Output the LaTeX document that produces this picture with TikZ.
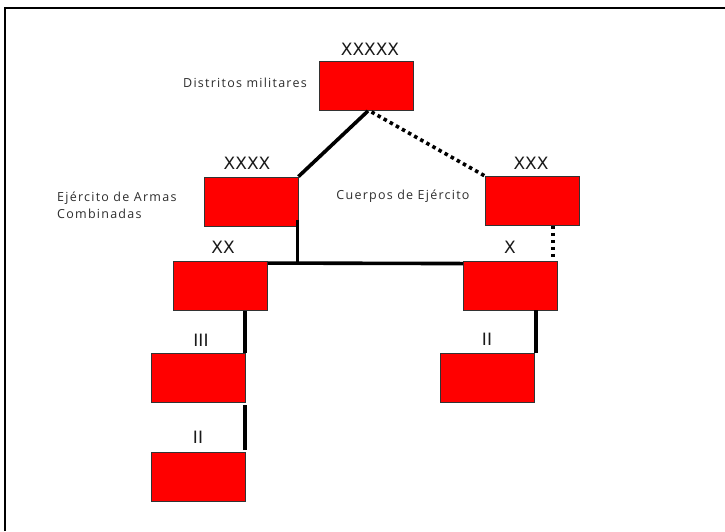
\documentclass[tikz,border=0pt]{standalone}
\usepackage{fontspec}
\setmainfont{Open Sans}
\newfontfamily\descfont[LetterSpace=10]{Open Sans}
\newfontfamily\echfont{DejaVu Sans}
\usetikzlibrary{calc}
\definecolor{boxred}{RGB}{255,0,0}
\definecolor{txtgrey}{RGB}{45,45,45}
\tikzset{
  unit/.style={draw=black!80, line width=0.9pt, fill=boxred, minimum width=94pt, minimum height=49pt, inner sep=0pt},
  echelon/.style={font=\echfont\fontsize{17}{17}\selectfont, text=black!90, inner sep=0pt},
  desc/.style={font=\descfont\fontsize{12.5}{17}\selectfont, text=txtgrey, inner sep=0pt},
  solidlink/.style={line width=3.6pt},
  dotlink/.style={line width=3.6pt, dash pattern=on 3.5pt off 3.5pt},
}
\begin{document}
\begin{tikzpicture}[x=1pt,y=-1pt]
\useasboundingbox (0,0) rectangle (725,531);
\draw[line width=2pt] (5,531) -- (5,7.5) -- (725,7.5);
% boxes
\node[unit] (b5) at (366.5,86) {};
\node[unit] (b4) at (251,201.5) {};
\node[unit] (b3) at (532.5,201) {};
\node[unit] (bX) at (510.5,285.5) {};
\node[unit] (b2) at (220.5,286) {};
\node[unit] (bIII) at (198.5,378) {};
\node[unit] (bIIl) at (198.5,477) {};
\node[unit] (bIIr) at (487.5,378) {};
% echelon labels
\node[echelon] (l5) at (370,49) {XXXXX};
\node[echelon] (l4) at (247,163) {XXXX};
\node[echelon] (l3) at (531,163) {XXX};
\node[echelon] (lX) at (510,247) {X};
\node[echelon] (l2) at (223,247) {XX};
\node[echelon] (lIII) at (201,340) {III};
\node[echelon] (lIIl) at (198,437) {II};
\node[echelon] (lIIr) at (487,339) {II};
% descriptions
\node[desc] (d5) at (245,83) {Distritos militares};
\node[desc, align=left, anchor=west] (d4) at (57,205.5) {Ejército de Armas\\Combinadas};
\node[desc] (d3) at (403,196) {Cuerpos de Ejército};
% connector points
\coordinate (p5a) at ($(b5.south)+(1.5,0)$);
\coordinate (p5b) at ($(b5.south)+(5,1)$);
\coordinate (j) at ($(b4.south east)+(-1,-6)$);
\coordinate (hl) at ($(b2.north east)+(0,2)$);
\coordinate (hr) at ($(bX.north west)+(0,3)$);
\coordinate (jh) at (j |- hl);
\coordinate (p3) at ($(b3.south east)+(-27,0)$);
\coordinate (pX) at (p3 |- bX.north);
\coordinate (pIII) at ($(bIII.north east)+(-1,0)$);
\coordinate (p2) at (pIII |- b2.south);
\coordinate (pIIIs) at ($(bIII.south east)+(-1,2)$);
\coordinate (pIIl) at ($(bIIl.north east)+(-1,-2)$);
\coordinate (pIIr) at ($(bIIr.north east)+(1,0)$);
\coordinate (pXs) at (pIIr |- bX.south);
% connectors
\draw[solidlink] (p5a) -- (b4.north east);
\draw[dotlink] (p5b) -- (b3.north west);
\draw[solidlink] (j) -- (jh);
\draw[solidlink] (hl) -- (hr);
\draw[dotlink] (p3) -- (pX);
\draw[solidlink] (pIII) -- (p2);
\draw[solidlink] (pIIl) -- (pIIIs);
\draw[solidlink] (pIIr) -- (pXs);
\end{tikzpicture}
\end{document}
